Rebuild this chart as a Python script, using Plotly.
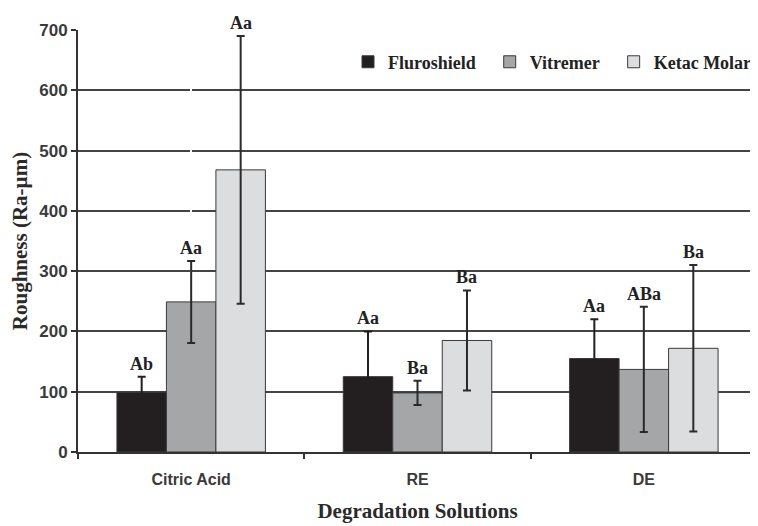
import plotly.graph_objects as go

categories = ["Citric Acid", "RE", "DE"]
series_names = ["Fluroshield", "Vitremer", "Ketac Molar"]
fluroshield = [99, 125, 155]
fluroshield_err = [26, 75, 65]
vitremer = [249, 98, 137]
vitremer_err = [68, 20, 104]
ketac = [468, 185, 172]
ketac_err = [222, 83, 138]
labels = [["Ab", "Aa", "Aa"], ["Aa", "Ba", "ABa"], ["Aa", "Ba", "Ba"]]
y_ticks = [0, 100, 200, 300, 400, 500, 600, 700]

values = [fluroshield, vitremer, ketac]
errors = [fluroshield_err, vitremer_err, ketac_err]
colors = ["#231f20", "#a5a6a8", "#dcdddf"]
err_colors = ["#231f20", "#2a2a2a", "#2a2a2a"]
legend_pad = ["\u00a0\u00a0", "\u00a0\u00a0", ""]

BARGAP = 0.344

fig = go.Figure()
for name, vals, errs, col, ecol, pad in zip(series_names, values, errors, colors, err_colors, legend_pad):
    fig.add_trace(go.Bar(
        name=name + pad, x=categories, y=vals,
        marker=dict(color=col, line=dict(color="#3a3a3a", width=1)),
        error_y=dict(type="data", array=errs, visible=True,
                     color=ecol, thickness=2, width=4),
    ))

# letter labels above error bars
n = len(series_names)
bar_w = (1 - BARGAP) / n
for si in range(n):
    for ci in range(len(categories)):
        top = values[si][ci] + errors[si][ci]
        fig.add_annotation(
            x=ci - (1 - BARGAP) / 2 + bar_w * (si + 0.5), xref="x",
            y=top, yref="y", yanchor="bottom", yshift=1,
            text=labels[si][ci], showarrow=False,
            font=dict(family="Liberation Serif", size=18, color="#222", weight="bold"),
        )

# category boundary ticks on the x axis
fig.add_trace(go.Scatter(x=[-0.5, 2.5], y=[None, None], xaxis="x2", showlegend=False,
                         hoverinfo="skip", mode="lines"))

fig.update_layout(
    width=750, height=518,
    margin=dict(l=70, r=1, t=22, b=74),
    paper_bgcolor="white", plot_bgcolor="white",
    barmode="group", bargap=BARGAP, bargroupgap=0,
    showlegend=True,
    legend=dict(orientation="h", x=1.0, xanchor="right", y=0.924, yanchor="middle",
                font=dict(family="Liberation Serif", size=18, color="#222", weight="bold"),
                bgcolor="rgba(0,0,0,0)", traceorder="normal"),
    xaxis=dict(
        title=dict(text="Degradation Solutions", standoff=16,
                   font=dict(family="Liberation Serif", size=21, color="#2a2a2a", weight="bold")),
        tickfont=dict(family="Liberation Sans", size=16, color="#3a3a3a", weight="bold"),
        ticklabelstandoff=12,
        showline=True, linecolor="#333", linewidth=2,
        ticks="", showgrid=False, range=[-0.5, 2.5],
    ),
    xaxis2=dict(overlaying="x", range=[-0.5, 2.5], tickvals=[-0.5, 0.5, 1.5, 2.5],
                ticktext=["", "", "", ""], ticks="outside", ticklen=6, tickwidth=2,
                tickcolor="#333", showgrid=False, showline=False, side="bottom",
                anchor="y"),
    yaxis=dict(
        title=dict(text="Roughness (Ra-µm)", standoff=7,
                   font=dict(family="Liberation Serif", size=21, color="#2a2a2a", weight="bold")),
        range=[0, 700], tickvals=y_ticks,
        tickfont=dict(family="Liberation Sans", size=17, color="#3a3a3a", weight="bold"),
        showline=True, linecolor="#333", linewidth=2,
        ticks="outside", ticklen=5, tickwidth=2, tickcolor="#333",
        showgrid=True, gridcolor="#444", gridwidth=2,
        zeroline=False,
    ),
)

fig.write_html("out.html")
